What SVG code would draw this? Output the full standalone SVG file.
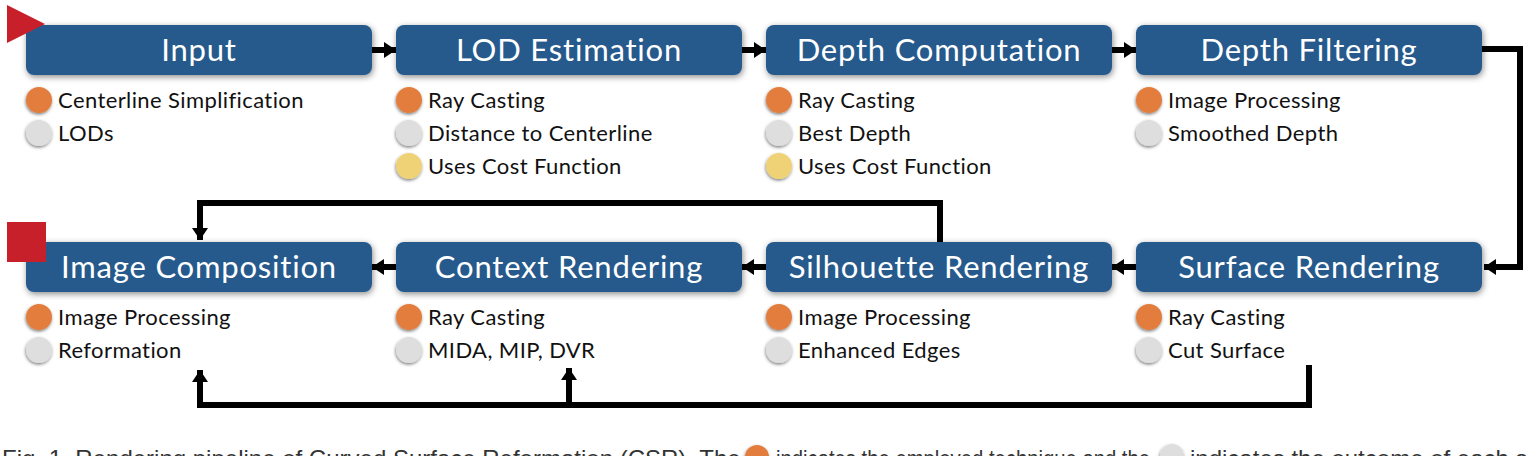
<svg xmlns="http://www.w3.org/2000/svg" width="1526" height="456" viewBox="0 0 1526 456">
<defs>
<filter id="sh" x="-10%" y="-30%" width="120%" height="160%">
<feDropShadow dx="1" dy="2" stdDeviation="3" flood-color="#000" flood-opacity="0.45"/>
</filter>
<filter id="csh" x="-50%" y="-50%" width="200%" height="200%">
<feDropShadow dx="-0.5" dy="1.5" stdDeviation="1.5" flood-color="#000" flood-opacity="0.5"/>
</filter>
<marker id="ah" viewBox="0 0 12 16" refX="12" refY="8" markerWidth="12" markerHeight="16" markerUnits="userSpaceOnUse" orient="auto">
<path d="M0,0 L12,8 L0,16 Z" fill="#000"/>
</marker>
</defs>
<style>
.box{fill:#285a8c;filter:url(#sh)}
.lbl{font-family:Lato,"Open Sans",sans-serif;font-size:31px;letter-spacing:0.8px;fill:#fff;text-anchor:middle}
.it{font-family:Lato,"Open Sans",sans-serif;font-size:22px;letter-spacing:0.4px;fill:#111}
.o{fill:#e27d3c;filter:url(#csh)}
.g{fill:#dedede;filter:url(#csh)}
.y{fill:#f0d276;filter:url(#csh)}
.ln{fill:none;stroke:#000;stroke-width:6;stroke-linejoin:miter}
.cap{font-family:"Liberation Sans",Arial,sans-serif;font-size:24px;fill:#333}
</style>

<g id="connectors">
<line class="ln" x1="372" y1="50" x2="396" y2="50" marker-end="url(#ah)" stroke-width="5"/>
<line class="ln" x1="742" y1="50" x2="766" y2="50" marker-end="url(#ah)" stroke-width="5"/>
<line class="ln" x1="1112" y1="50" x2="1136" y2="50" marker-end="url(#ah)" stroke-width="5"/>
<polyline class="ln" points="1482,49 1520,49 1520,267 1484,267" marker-end="url(#ah)"/>
<line class="ln" x1="1136" y1="267" x2="1112" y2="267" marker-end="url(#ah)" stroke-width="5"/>
<line class="ln" x1="766" y1="267" x2="742" y2="267" marker-end="url(#ah)" stroke-width="5"/>
<line class="ln" x1="396" y1="267" x2="372" y2="267" marker-end="url(#ah)" stroke-width="5"/>
<polyline class="ln" points="940,242 940,203 200,203 200,240" marker-end="url(#ah)"/>
<polyline class="ln" points="1309,365 1309,405 200,405 200,370" marker-end="url(#ah)"/>
<line class="ln" x1="569" y1="405" x2="569" y2="368" marker-end="url(#ah)"/>
</g>

<g id="input">
<rect class="box" x="26" y="25" width="346" height="50" rx="8"/>
<text class="lbl" x="199" y="61">Input</text>
<circle class="o" cx="39" cy="100" r="13"/><text class="it" x="58" y="108">Centerline Simplification</text>
<circle class="g" cx="39" cy="133" r="13"/><text class="it" x="58" y="141">LODs</text>
</g>
<g id="start-marker">
<polygon points="7,5 45,24 7,43" fill="#c8202a"/>
</g>

<g id="lod-estimation">
<rect class="box" x="396" y="25" width="346" height="50" rx="8"/>
<text class="lbl" x="569" y="61">LOD Estimation</text>
<circle class="o" cx="409" cy="100" r="13"/><text class="it" x="428" y="108">Ray Casting</text>
<circle class="g" cx="409" cy="133" r="13"/><text class="it" x="428" y="141">Distance to Centerline</text>
<circle class="y" cx="409" cy="166" r="13"/><text class="it" x="428" y="174">Uses Cost Function</text>
</g>

<g id="depth-computation">
<rect class="box" x="766" y="25" width="346" height="50" rx="8"/>
<text class="lbl" x="939" y="61">Depth Computation</text>
<circle class="o" cx="779" cy="100" r="13"/><text class="it" x="798" y="108">Ray Casting</text>
<circle class="g" cx="779" cy="133" r="13"/><text class="it" x="798" y="141">Best Depth</text>
<circle class="y" cx="779" cy="166" r="13"/><text class="it" x="798" y="174">Uses Cost Function</text>
</g>

<g id="depth-filtering">
<rect class="box" x="1136" y="25" width="346" height="50" rx="8"/>
<text class="lbl" x="1309" y="61">Depth Filtering</text>
<circle class="o" cx="1149" cy="100" r="13"/><text class="it" x="1168" y="108">Image Processing</text>
<circle class="g" cx="1149" cy="133" r="13"/><text class="it" x="1168" y="141">Smoothed Depth</text>
</g>

<g id="image-composition">
<rect class="box" x="26" y="242" width="346" height="50" rx="8"/>
<text class="lbl" x="199" y="278">Image Composition</text>
<circle class="o" cx="39" cy="317" r="13"/><text class="it" x="58" y="325">Image Processing</text>
<circle class="g" cx="39" cy="350" r="13"/><text class="it" x="58" y="358">Reformation</text>
</g>
<g id="end-marker">
<rect x="7" y="222" width="39" height="40" fill="#c8202a"/>
</g>

<g id="context-rendering">
<rect class="box" x="396" y="242" width="346" height="50" rx="8"/>
<text class="lbl" x="569" y="278">Context Rendering</text>
<circle class="o" cx="409" cy="317" r="13"/><text class="it" x="428" y="325">Ray Casting</text>
<circle class="g" cx="409" cy="350" r="13"/><text class="it" x="428" y="358">MIDA, MIP, DVR</text>
</g>

<g id="silhouette-rendering">
<rect class="box" x="766" y="242" width="346" height="50" rx="8"/>
<text class="lbl" x="939" y="278">Silhouette Rendering</text>
<circle class="o" cx="779" cy="317" r="13"/><text class="it" x="798" y="325">Image Processing</text>
<circle class="g" cx="779" cy="350" r="13"/><text class="it" x="798" y="358">Enhanced Edges</text>
</g>

<g id="surface-rendering">
<rect class="box" x="1136" y="242" width="346" height="50" rx="8"/>
<text class="lbl" x="1309" y="278">Surface Rendering</text>
<circle class="o" cx="1149" cy="317" r="13"/><text class="it" x="1168" y="325">Ray Casting</text>
<circle class="g" cx="1149" cy="350" r="13"/><text class="it" x="1168" y="358">Cut Surface</text>
</g>

<g id="caption">
<text class="cap" x="2" y="467">Fig. 1. Rendering pipeline of Curved Surface Reformation (CSR). The</text>
<circle class="o" cx="757" cy="457" r="12"/>
<text class="cap" x="776" y="467" textLength="374" lengthAdjust="spacingAndGlyphs">indicates the employed technique and the</text>
<circle class="g" cx="1172" cy="456" r="12"/>
<text class="cap" x="1190" y="467">indicates the outcome of each stage</text>
</g>
</svg>
